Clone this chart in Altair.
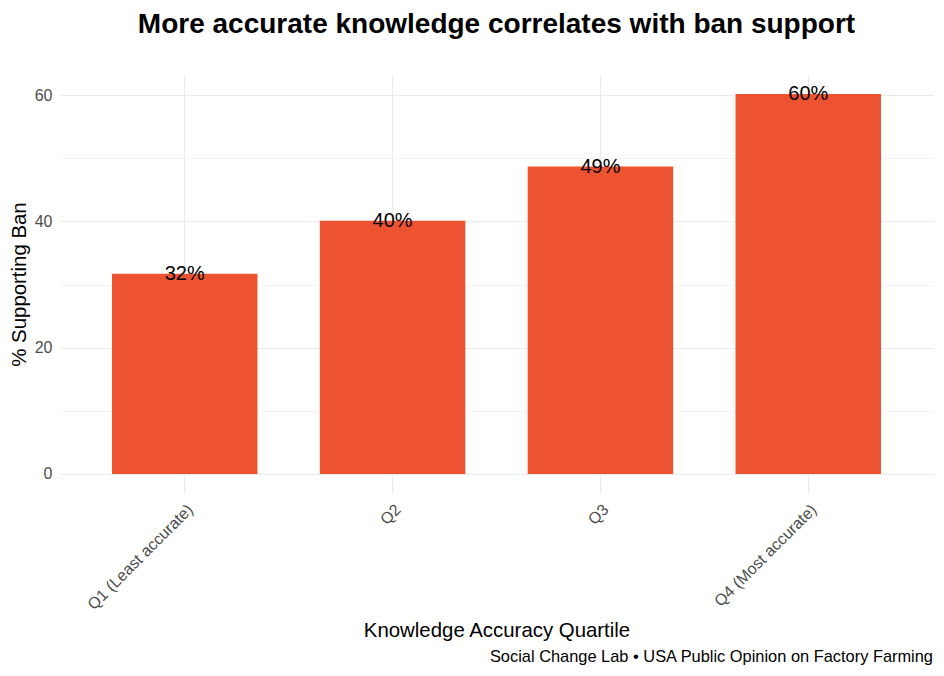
import altair as alt
import pandas as pd

# Données
quartiles = ["Q1 (Least accurate)", "Q2", "Q3", "Q4 (Most accurate)"]
support = [31.7, 40.1, 48.7, 60.2]
labels = ["32%", "40%", "49%", "60%"]
caption = "Social Change Lab \u2022 USA Public Opinion on Factory Farming"

FONT = "Liberation Sans"
BAR = "#EE5331"

df = pd.DataFrame({"quartile": quartiles, "support": support, "label": labels})

x_enc = alt.X(
    "quartile:N",
    sort=quartiles,
    scale=alt.Scale(paddingInner=0.3, paddingOuter=0.25),
    axis=alt.Axis(
        title="Knowledge Accuracy Quartile",
        labelAngle=-45,
        labelAlign="right",
        labelBaseline="top",
        labelPadding=8,
        labelFontSize=16,
        labelColor="#4D4D4D",
        titleFontSize=20.4,
        titleFontWeight="normal",
        titleColor="black",
        titleY=143,
        titleX=436.5,
        titleBaseline="alphabetic",
        bandPosition=0.5,
        grid=True,
        gridColor="#EBEBEB",
        gridWidth=1.1,
        ticks=False,
        domain=False,
    ),
)

y_enc = alt.Y(
    "support:Q",
    scale=alt.Scale(domain=[-3.01, 63.2], nice=False, zero=False),
    axis=alt.Axis(
        title="% Supporting Ban",
        values=[0, 10, 20, 30, 40, 50, 60],
        labelExpr="datum.value % 20 === 0 ? datum.label : ''",
        labelFontSize=16,
        labelColor="#4D4D4D",
        labelPadding=8,
        titleFontSize=20.4,
        titleFontWeight="normal",
        titleColor="black",
        titleX=-35,
        titleBaseline="alphabetic",
        grid=True,
        gridColor="#EBEBEB",
        gridWidth={"condition": {"test": "datum.value % 20 === 0", "value": 1.1}, "value": 0.6},
        ticks=False,
        domain=False,
    ),
)

bars = alt.Chart(df).mark_bar(color=BAR).encode(x=x_enc, y=y_enc)

text = alt.Chart(df).mark_text(
    fontSize=20, font=FONT, color="black", baseline="middle", align="center"
).encode(
    x=alt.X("quartile:N", sort=quartiles),
    y="support:Q",
    text="label:N",
)

cap = alt.Chart(pd.DataFrame({"caption": [caption]})).mark_text(
    fontSize=16.4, font=FONT, color="black", align="right", baseline="alphabetic"
).encode(
    x=alt.value(873),
    y=alt.value(587),
    text="caption:N",
)

chart = alt.layer(bars, text, cap).properties(
    width=873,
    height=418,
    title=alt.TitleParams(
        "More accurate knowledge correlates with ban support",
        fontSize=28,
        fontWeight="bold",
        font=FONT,
        color="black",
        anchor="middle",
        baseline="alphabetic",
        offset=14,
    ),
    autosize=alt.AutoSizeParams(type="none"),
    padding={"left": 52, "top": 67, "right": 3, "bottom": 175},
).configure(
    font=FONT,
    background="white",
).configure_view(
    stroke=None,
).configure_axis(
    labelFont=FONT,
    titleFont=FONT,
)

chart.save("out.html", embed_options={"renderer": "svg", "actions": False})
